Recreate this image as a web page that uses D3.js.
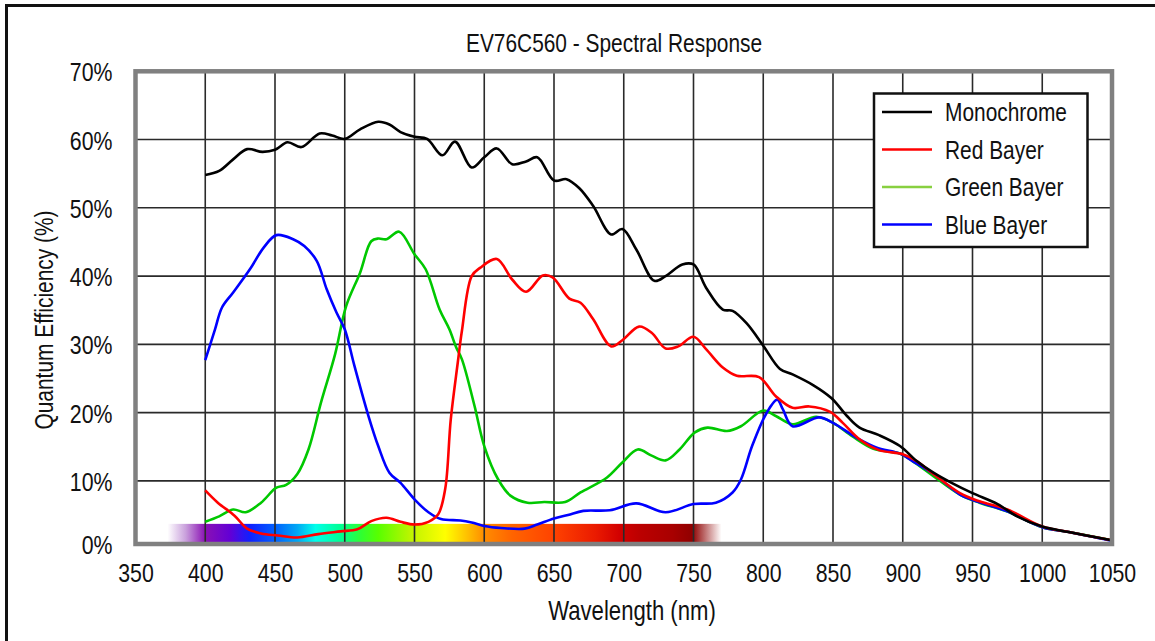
<!DOCTYPE html>
<html><head><meta charset="utf-8">
<script src="https://cdn.jsdelivr.net/npm/d3@7/dist/d3.min.js"></script>
<style>
html,body{margin:0;padding:0;background:#fff;}
text{font-family:"Liberation Sans",Arial,sans-serif;fill:#111;}
</style></head><body>
<svg id="c" width="1155" height="641"></svg>
<script>
const title = "EV76C560 - Spectral Response";
const xLabel = "Wavelength (nm)";
const yLabel = "Quantum Efficiency (%)";
const xTicks = [350,400,450,500,550,600,650,700,750,800,850,900,950,1000,1050];
const yTicks = [0,10,20,30,40,50,60,70];
const seriesNames = ["Monochrome","Red Bayer","Green Bayer","Blue Bayer"];
const seriesColors = ["#000000","#ff0000","#00c800","#0000ff"];
const legendColors = ["#000000","#ff0000","#88d040","#0000ff"];

const monoWl = [400,410,420,430,441,450,459,469,482,491,500,511,524,532,540,550,559,570,579,591,600,609,620,630,638,650,659,668,678,691,699,709,722,730,742,750,759,771,778,788,800,812,821,836,849,860,869,883,898,910,922,935,950,968,982,1000,1019,1050];
const monoQE = [54.8,55.4,57.1,58.6,58.2,58.5,59.6,58.9,60.9,60.6,60.1,61.5,62.6,62.2,61.1,60.4,60.1,57.7,59.7,55.9,57.4,58.7,56.4,56.8,57.4,54.0,54.2,52.9,50.3,46.1,46.9,43.9,39.3,40.0,41.7,41.7,38.3,35.1,34.9,33.1,29.8,26.4,25.6,24.0,22.1,19.5,17.8,16.7,15.1,12.9,11.2,9.7,8.2,6.6,4.8,3.3,2.5,1.3];

const redWl = [400,409,421,430,440,452,466,481,497,509,519,530,540,550,560,567,572,576,581,584,591,597,609,620,630,642,649,661,669,678,691,699,711,720,730,739,750,759,771,781,797,809,821,833,848,857,869,883,900,910,922,941,955,975,1000,1019,1050];
const redQE = [8.6,6.8,4.9,3.0,2.3,2.0,1.7,2.2,2.6,2.9,4.1,4.6,4.0,3.6,4.0,5.1,8.8,19.0,27.3,32.0,40.0,41.2,42.5,39.5,37.7,40.1,39.8,36.7,36.1,33.7,29.7,30.6,32.6,31.7,29.4,29.7,31.1,29.3,26.6,25.4,25.2,22.4,20.7,20.9,20.1,18.5,16.1,14.5,13.9,12.9,11.0,8.2,7.0,5.8,3.3,2.5,1.3];

const greenWl = [400,410,420,429,440,451,458,466,474,483,493,501,511,519,524,530,539,550,558,568,575,580,584,593,600,610,619,631,643,658,669,688,699,710,720,730,740,751,760,774,784,800,809,821,838,850,864,879,898,907,922,941,955,975,1000,1019,1050];
const greenQE = [4.0,4.8,5.8,5.4,6.8,9.0,9.4,11.0,14.6,21.5,28.5,35.6,40.5,45.1,45.5,45.4,46.5,43.2,41.0,35.1,32.2,29.5,27.8,21.0,15.1,10.2,7.8,6.8,6.9,6.9,8.3,10.5,12.7,14.6,13.7,13.0,14.6,17.1,17.8,17.3,18.0,20.3,19.5,18.3,19.4,18.5,16.5,14.7,14.0,12.9,10.7,8.0,6.8,5.5,3.2,2.5,1.3];

const blueWl = [400,407,412,420,432,442,451,463,471,480,487,494,500,507,517,524,532,540,550,560,569,583,591,600,612,629,638,650,660,671,690,709,730,750,766,778,784,792,802,810,814,821,840,850,867,881,898,907,922,941,950,974,1000,1019,1050];
const blueQE = [27.7,32.2,35.4,37.6,41.0,44.2,46.0,45.4,44.4,42.2,38.1,34.7,32.2,26.8,19.5,15.1,11.2,9.7,7.3,5.4,4.4,4.2,3.9,3.4,3.1,3.0,3.6,4.5,5.0,5.6,5.7,6.7,5.4,6.6,6.8,8.3,10.2,15.1,19.8,21.9,20.5,18.0,19.3,18.5,16.3,14.9,14.0,12.9,11.0,8.0,7.2,5.6,3.2,2.5,1.2];

const spectrumWl = [373,386,400,418,432,450,466,479,497,512,524,548,572,588,600,620,650,680,697,712,735,749,757,770];
const spectrumColors = ["#ffffff","#c9a0dc","#8a10b4","#6200d6","#1020ff","#0060ff","#00a8f4","#00ffea","#00ff92","#30ff30","#58ff00","#c0f400","#ffff00","#ffbf00","#ff8c00","#ff6400","#ff4200","#ea1a00","#d20000","#bb0000","#a80000","#900000","#b86060","#ffffff"];
const spectrumTop = 3.7;

const seriesWl = [monoWl, redWl, greenWl, blueWl];
const seriesQE = [monoQE, redQE, greenQE, blueQE];

const NARROW = 0.82;
const svg = d3.select("#c");
const L = 135.5, R = 1112, T = 71.3, B = 544;
const yMin = 0.75;
const x = d3.scaleLinear().domain([350,1050]).range([L,R]);
const y = d3.scaleLinear().domain([yMin,70]).range([B,T]);

function narrowText(parent, tx, ty, str, size, anchor, rot){
  const g = parent.append("g").attr("transform",`translate(${tx},${ty})` + (rot?` rotate(${rot})`:"") + ` scale(${NARROW},1)`);
  return g.append("text").attr("text-anchor",anchor||"start").attr("font-size",size).text(str);
}

// outer frame
svg.append("path").attr("d",`M6.5,641 V5.5 H1155`).attr("fill","none").attr("stroke","#111").attr("stroke-width",3);

// title
narrowText(svg, 614, 51.7, title, 25.5, "middle");

// clip
const defs = svg.append("defs");
defs.append("clipPath").attr("id","clip").append("rect")
  .attr("x",L).attr("y",T).attr("width",R-L).attr("height",B-T);

// spectrum gradient
const w0 = spectrumWl[0], w1 = spectrumWl[spectrumWl.length-1];
const grad = defs.append("linearGradient").attr("id","spec")
  .attr("gradientUnits","userSpaceOnUse")
  .attr("x1",x(w0)).attr("x2",x(w1)).attr("y1",0).attr("y2",0);
spectrumWl.forEach((w,i)=>{
  grad.append("stop").attr("offset",((w-w0)/(w1-w0)*100)+"%").attr("stop-color",spectrumColors[i]);
});
svg.append("rect").attr("x",x(w0)).attr("width",x(w1)-x(w0))
  .attr("y",y(spectrumTop)).attr("height",B-y(spectrumTop)).attr("fill","url(#spec)");

// grid
const grid = svg.append("g");
grid.selectAll("line.v").data(xTicks.slice(1,-1)).join("line")
  .attr("x1",d=>x(d)).attr("x2",d=>x(d)).attr("y1",T).attr("y2",B)
  .attr("stroke","#2a2a2a").attr("stroke-width",1.6);
grid.selectAll("line.h").data(yTicks.slice(1,-1)).join("line")
  .attr("y1",d=>y(d)).attr("y2",d=>y(d)).attr("x1",L).attr("x2",R)
  .attr("stroke","#2a2a2a").attr("stroke-width",1.6);

// curves
const line = d3.line().x(d=>x(d[0])).y(d=>y(d[1])).curve(d3.curveCatmullRom.alpha(0.5));
const curves = svg.append("g").attr("clip-path","url(#clip)");
[2,3,1,0].forEach(i=>{
  const pts = seriesWl[i].map((w,j)=>[w,seriesQE[i][j]]);
  curves.append("path").attr("d",line(pts)).attr("fill","none")
    .attr("stroke",seriesColors[i]).attr("stroke-width",2.6).attr("stroke-linejoin","round");
});

// plot border
svg.append("rect").attr("x",L).attr("y",T).attr("width",R-L).attr("height",B-T)
  .attr("fill","none").attr("stroke","#808080").attr("stroke-width",4.5);

// axes
const xAxis = d3.axisBottom(x).tickValues(xTicks).tickSize(0).tickPadding(20).tickFormat(d3.format("d"));
const gx = svg.append("g").attr("transform",`translate(0,${B})`).call(xAxis);
gx.select(".domain").remove();
gx.selectAll("text").attr("font-size",26).attr("font-family",null).attr("fill","#111")
  .attr("transform",`scale(${NARROW},1)`);

const yPad = 23;
const yAxis = d3.axisLeft(y).tickValues(yTicks.map(v=>Math.max(v,yMin))).tickSize(0).tickPadding(yPad)
  .tickFormat(d=>Math.floor(d)+"%");
const gy = svg.append("g").attr("transform",`translate(${L},0)`).call(yAxis);
gy.select(".domain").remove();
gy.selectAll("text").attr("font-size",26).attr("font-family",null).attr("fill","#111").attr("dy","0.37em")
  .attr("x",-yPad/NARROW).attr("transform",`scale(${NARROW},1)`);

// axis labels
narrowText(svg, 632, 620, xLabel, 27, "middle");
narrowText(svg, 53, 320, yLabel, 25.5, "middle", -90);

// legend
const lg = svg.append("g");
lg.append("rect").attr("x",874).attr("y",93.5).attr("width",213.5).attr("height",153.5)
  .attr("fill","#fff").attr("stroke","#111").attr("stroke-width",2.5);
seriesNames.forEach((n,i)=>{
  const yy = 112 + i*37.5;
  lg.append("line").attr("x1",882).attr("x2",932).attr("y1",yy).attr("y2",yy)
    .attr("stroke",legendColors[i]).attr("stroke-width",2.6);
  narrowText(lg, 945, yy, n, 25.5, "start").attr("dy","0.36em");
});
</script>
</body></html>
